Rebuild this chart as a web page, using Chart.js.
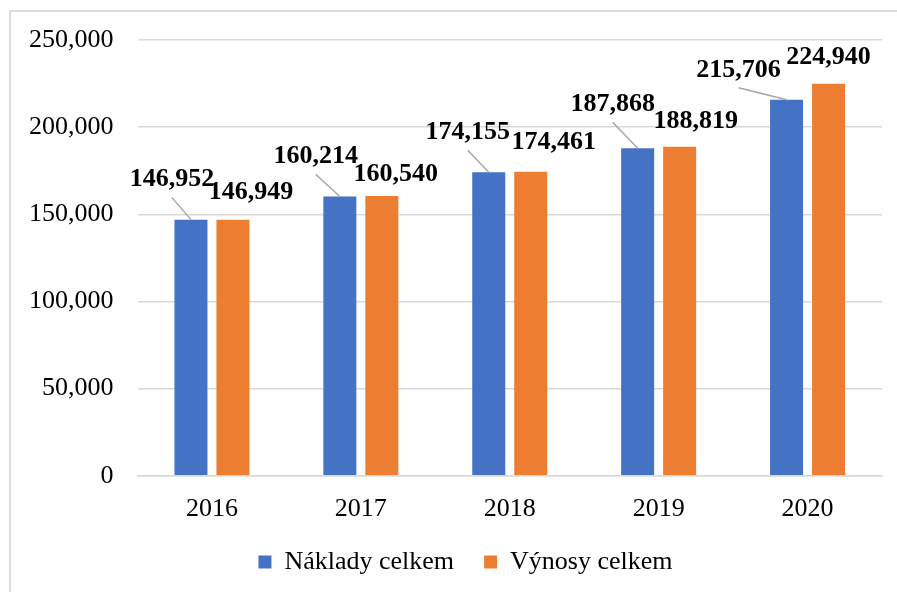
<!DOCTYPE html>
<html>
<head>
<meta charset="utf-8">
<script src="https://cdn.jsdelivr.net/npm/chart.js@4/dist/chart.umd.min.js"></script>
<style>
  html, body { margin: 0; padding: 0; background: #fff; }
  #wrap { position: relative; width: 897px; height: 592px; }
  #frame {
    position: absolute; left: 9px; top: 10px; width: 900px; height: 600px;
    border-left: 2px solid #dcdcdc; border-top: 2px solid #dcdcdc;
    pointer-events: none;
  }
</style>
</head>
<body>
<div id="wrap">
  <canvas id="chart"></canvas>
  <div id="frame"></div>
</div>
<script>
// Chart values
const years = ['2016', '2017', '2018', '2019', '2020'];
const naklady = [146952, 160214, 174155, 187868, 215706];
const vynosy = [146949, 160540, 174461, 188819, 224940];

// Data label placement relative to the top centre of each bar (px)
const nakladyLabelShift = [[-19, -40], [-24, -40], [-21, -40], [-25, -44], [-48, -30]];
const vynosyLabelShift = [[18, -27], [14, -22], [23, -29], [16, -25], [0, -26]];

const fmt = (v) => v.toLocaleString('en-US');
const serif = '"Liberation Serif", "Times New Roman", serif';

// Draws the bold value labels, with leader lines for the blue series
const valueLabels = {
    id: 'valueLabels',
    afterDatasetsDraw(chart) {
        const ctx = chart.ctx;
        const shifts = [nakladyLabelShift, vynosyLabelShift];
        ctx.save();
        ctx.font = 'bold 26px ' + serif;
        ctx.textAlign = 'center';
        ctx.textBaseline = 'middle';
        chart.data.datasets.forEach((ds, i) => {
            chart.getDatasetMeta(i).data.forEach((bar, j) => {
                const [dx, dy] = shifts[i][j];
                const lx = bar.x + dx;
                const ly = bar.y + dy;
                if (i === 0) {
                    ctx.strokeStyle = '#a6a6a6';
                    ctx.lineWidth = 1.5;
                    ctx.beginPath();
                    ctx.moveTo(lx, ly + 18);
                    ctx.lineTo(bar.x, bar.y);
                    ctx.stroke();
                }
                ctx.fillStyle = '#000';
                ctx.fillText(fmt(ds.data[j]), lx, ly);
            });
        });
        ctx.restore();
    }
};

// Legend: short box, then moved to where the reference has it
const legendPlace = {
    id: 'legendPlace',
    beforeLayout(chart) {
        const legend = chart.legend;
        if (legend && !legend._patched) {
            const fit = legend.fit;
            legend.fit = function () {
                fit.call(this);
                this.height = 49;
            };
            legend._patched = true;
        }
    },
    afterLayout(chart) {
        const legend = chart.legend;
        legend.left += 22;
        legend.right += 22;
        legend.top = 519;
        legend.bottom = 576;
    }
};

new Chart(document.getElementById('chart'), {
    type: 'bar',
    data: {
        labels: years,
        datasets: [
            {
                label: 'Náklady celkem',
                data: naklady,
                backgroundColor: '#4472c4',
                categoryPercentage: 0.564,
                barPercentage: 0.786,
            },
            {
                label: 'Výnosy celkem',
                data: vynosy,
                backgroundColor: '#ed7d31',
                categoryPercentage: 0.564,
                barPercentage: 0.786,
            },
        ]
    },
    options: {
        responsive: true,
        maintainAspectRatio: false,
        animation: false,
        layout: {
            padding: { left: 5, right: 15, top: 40, bottom: 0 }
        },
        scales: {
            x: {
                grid: { display: false, drawTicks: false },
                border: { color: '#d9d9d9', width: 1.5 },
                ticks: {
                    color: '#000',
                    font: { family: serif, size: 26 },
                    padding: 18,
                }
            },
            y: {
                min: 0,
                max: 250000,
                grid: { color: '#d9d9d9', lineWidth: 1.5, drawTicks: false },
                border: { display: false },
                ticks: {
                    stepSize: 50000,
                    color: '#000',
                    font: { family: serif, size: 26 },
                    padding: 24,
                    callback: (v) => fmt(v),
                }
            }
        },
        plugins: {
            legend: {
                position: 'bottom',
                labels: {
                    color: '#000',
                    font: { family: serif, size: 26 },
                    boxWidth: 13,
                    boxHeight: 13,
                    padding: 30,
                }
            },
            tooltip: { enabled: false }
        }
    },
    plugins: [valueLabels, legendPlace]
});
</script>
</body>
</html>
